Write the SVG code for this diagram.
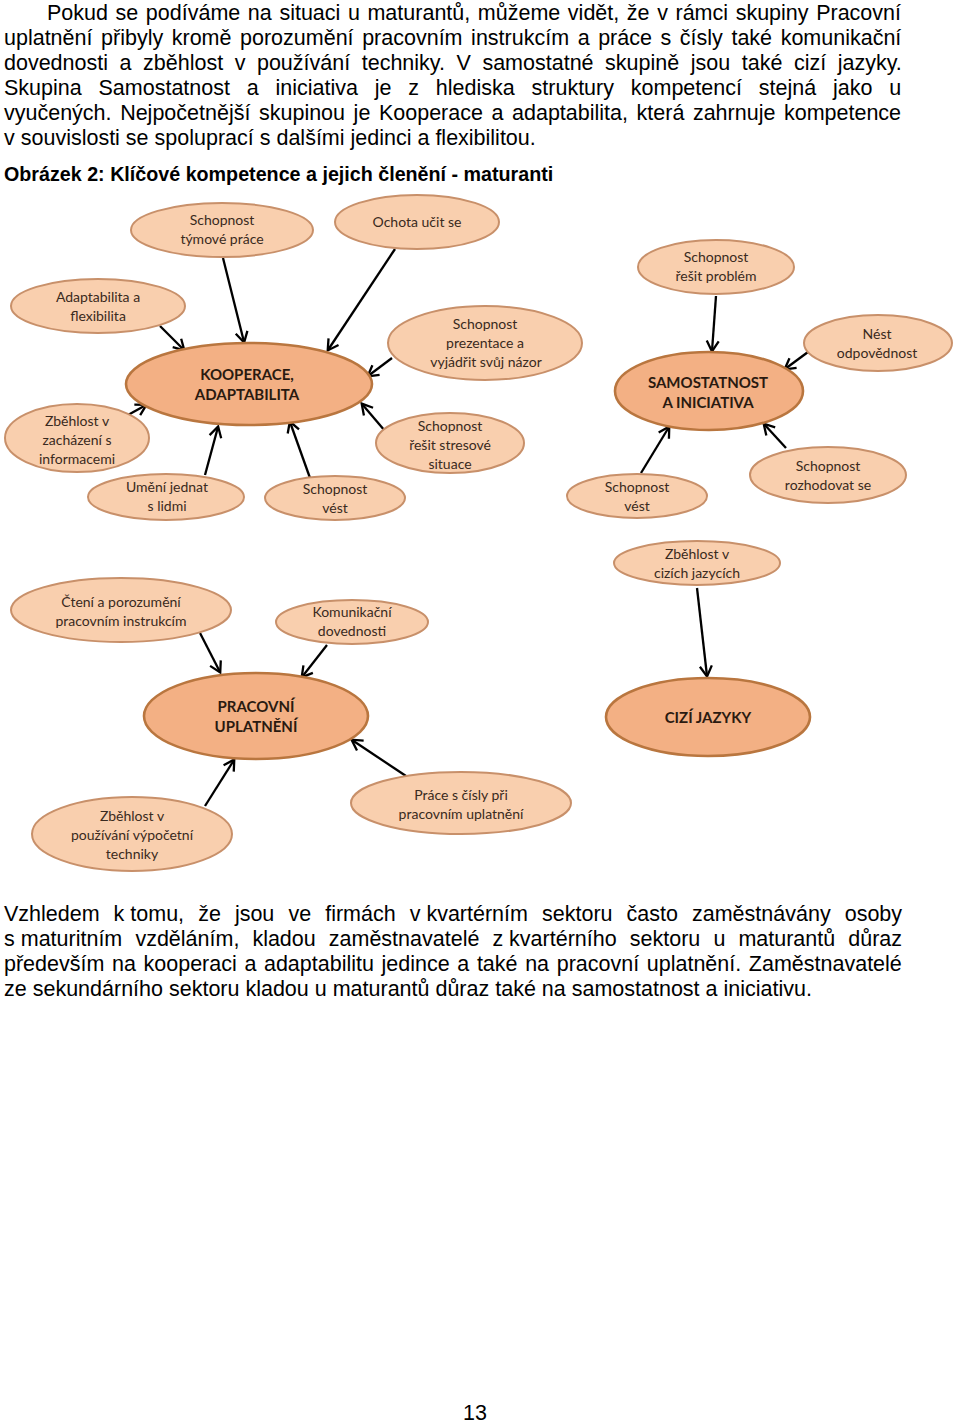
<svg xmlns="http://www.w3.org/2000/svg" width="960" height="1423" viewBox="0 0 960 1423">
<style>
.p{font-family:"Liberation Sans",Arial,sans-serif;font-size:21.5px;fill:#000}
.h{font-family:"Liberation Sans",Arial,sans-serif;font-size:19.7px;font-weight:bold;fill:#000}
.s{fill:#F9CFAE;stroke:#C8906A;stroke-width:2}
.b{fill:#F3B084;stroke:#B9763F;stroke-width:2.6}
.t{font-family:Lato,"Open Sans",sans-serif;font-size:14px;fill:#3a2a20;text-anchor:middle}
.tb{font-family:Lato,"Open Sans",sans-serif;font-size:15px;font-weight:bold;fill:#2a1a10;text-anchor:middle}
.c line{stroke:#000;stroke-width:2.3;marker-end:url(#ah)}
</style>
<defs>
<marker id="ah" markerUnits="userSpaceOnUse" viewBox="0 0 14 14" markerWidth="14" markerHeight="14" refX="12" refY="7" orient="auto" overflow="visible">
<path d="M2,1 L12.5,7 L2,13" fill="none" stroke="#000" stroke-width="2.3"/>
</marker>
</defs>
<rect width="960" height="1423" fill="#fff"/>
<g id="text-top">
<text class="p" x="47" y="20" word-spacing="1.62">Pokud se podíváme na situaci u maturantů, můžeme vidět, že v rámci skupiny Pracovní</text>
<text class="p" x="4" y="45" word-spacing="2.6">uplatnění přibyly kromě porozumění pracovním instrukcím a práce s čísly také komunikační</text>
<text class="p" x="4" y="70" word-spacing="5.57">dovednosti a zběhlost v používání techniky. V samostatné skupině jsou také cizí jazyky.</text>
<text class="p" x="4" y="95" word-spacing="10.83">Skupina Samostatnost a iniciativa je z hlediska struktury kompetencí stejná jako u</text>
<text class="p" x="4" y="120" word-spacing="2.6">vyučených. Nejpočetnější skupinou je Kooperace a adaptabilita, která zahrnuje kompetence</text>
<text class="p" x="4" y="145">v souvislosti se spoluprací s dalšími jedinci a flexibilitou.</text>
<text class="h" x="4" y="181">Obrázek 2: Klíčové kompetence a jejich členění - maturanti</text>
</g>
<g class="c" id="connectors">
<line x1="223" y1="258" x2="244" y2="342"/>
<line x1="395" y1="249" x2="328" y2="350"/>
<line x1="160" y1="326" x2="184" y2="350"/>
<line x1="392" y1="358" x2="368" y2="376"/>
<line x1="128" y1="415" x2="146" y2="405"/>
<line x1="205" y1="475" x2="218" y2="427"/>
<line x1="310" y1="478" x2="290" y2="422"/>
<line x1="385" y1="431" x2="362" y2="404"/>
<line x1="716" y1="296" x2="712" y2="351"/>
<line x1="808" y1="352" x2="785" y2="369"/>
<line x1="641" y1="473" x2="669" y2="427"/>
<line x1="786" y1="448" x2="764" y2="424"/>
<line x1="697" y1="588" x2="707" y2="676"/>
<line x1="200" y1="633" x2="220" y2="672"/>
<line x1="327" y1="645" x2="302" y2="677"/>
<line x1="205" y1="806" x2="234" y2="760"/>
<line x1="406" y1="776" x2="352" y2="740"/>
</g>
<g id="n-tymova"><ellipse class="s" cx="222" cy="230" rx="91" ry="27"/><text class="t" x="222" y="225">Schopnost</text><text class="t" x="222" y="244">týmové práce</text></g>
<g id="n-ochota"><ellipse class="s" cx="417" cy="222" rx="82" ry="27"/><text class="t" x="417" y="227">Ochota učit se</text></g>
<g id="n-adapt"><ellipse class="s" cx="98" cy="306" rx="87" ry="27"/><text class="t" x="98" y="302">Adaptabilita a</text><text class="t" x="98" y="321">flexibilita</text></g>
<g id="n-prezentace"><ellipse class="s" cx="485" cy="343" rx="97" ry="37"/><text class="t" x="485" y="329">Schopnost</text><text class="t" x="485" y="348">prezentace a</text><text class="t" x="486" y="367">vyjádřit svůj názor</text></g>
<g id="n-kooperace"><ellipse class="b" cx="249" cy="384" rx="123" ry="41"/><text class="tb" x="247" y="380">KOOPERACE,</text><text class="tb" x="247" y="400">ADAPTABILITA</text></g>
<g id="n-informace"><ellipse class="s" cx="77" cy="438" rx="72" ry="34"/><text class="t" x="77" y="426">Zběhlost v</text><text class="t" x="77" y="445">zacházení s</text><text class="t" x="77" y="464">informacemi</text></g>
<g id="n-stres"><ellipse class="s" cx="450" cy="443" rx="74" ry="30"/><text class="t" x="450" y="431">Schopnost</text><text class="t" x="450" y="450">řešit stresové</text><text class="t" x="450" y="469">situace</text></g>
<g id="n-umeni"><ellipse class="s" cx="166" cy="497" rx="78" ry="23"/><text class="t" x="167" y="492">Umění jednat</text><text class="t" x="167" y="511">s lidmi</text></g>
<g id="n-vest1"><ellipse class="s" cx="335" cy="498" rx="70" ry="22"/><text class="t" x="335" y="494">Schopnost</text><text class="t" x="335" y="513">vést</text></g>
<g id="n-problem"><ellipse class="s" cx="716" cy="267" rx="78" ry="27"/><text class="t" x="716" y="262">Schopnost</text><text class="t" x="716" y="281">řešit problém</text></g>
<g id="n-nest"><ellipse class="s" cx="878" cy="343" rx="74" ry="28"/><text class="t" x="877" y="339">Nést</text><text class="t" x="877" y="358">odpovědnost</text></g>
<g id="n-samostatnost"><ellipse class="b" cx="709" cy="391" rx="94" ry="39"/><text class="tb" x="708" y="388">SAMOSTATNOST</text><text class="tb" x="708" y="408">A INICIATIVA</text></g>
<g id="n-vest2"><ellipse class="s" cx="637" cy="496" rx="70" ry="22"/><text class="t" x="637" y="492">Schopnost</text><text class="t" x="637" y="511">vést</text></g>
<g id="n-rozhodovat"><ellipse class="s" cx="828" cy="475" rx="78" ry="28"/><text class="t" x="828" y="471">Schopnost</text><text class="t" x="828" y="490">rozhodovat se</text></g>
<g id="n-jazyky-z"><ellipse class="s" cx="697" cy="563" rx="83" ry="22"/><text class="t" x="697" y="559">Zběhlost v</text><text class="t" x="697" y="578">cizích jazycích</text></g>
<g id="n-cizi"><ellipse class="b" cx="708" cy="717" rx="102" ry="39"/><text class="tb" x="708" y="723">CIZÍ JAZYKY</text></g>
<g id="n-cteni"><ellipse class="s" cx="121" cy="610" rx="110" ry="32"/><text class="t" x="121" y="607">Čtení a porozumění</text><text class="t" x="121" y="626">pracovním instrukcím</text></g>
<g id="n-komunikace"><ellipse class="s" cx="352" cy="622" rx="76" ry="22"/><text class="t" x="352" y="617">Komunikační</text><text class="t" x="352" y="636">dovednosti</text></g>
<g id="n-pracovni"><ellipse class="b" cx="256" cy="716" rx="112" ry="43"/><text class="tb" x="256" y="712">PRACOVNÍ</text><text class="tb" x="256" y="732">UPLATNĚNÍ</text></g>
<g id="n-vypocet"><ellipse class="s" cx="132" cy="834" rx="100" ry="37"/><text class="t" x="132" y="821">Zběhlost v</text><text class="t" x="132" y="840">používání výpočetní</text><text class="t" x="132" y="859">techniky</text></g>
<g id="n-cisla"><ellipse class="s" cx="461" cy="803" rx="110" ry="31"/><text class="t" x="461" y="800">Práce s čísly při</text><text class="t" x="461" y="819">pracovním uplatnění</text></g>
<g id="text-bottom">
<text class="p" y="921"><tspan x="4">Vzhledem</tspan><tspan x="113.6">k tomu,</tspan><tspan x="198.2">že</tspan><tspan x="234.9">jsou</tspan><tspan x="288.4">ve</tspan><tspan x="325.2">firmách</tspan><tspan x="409.7">v kvartérním</tspan><tspan x="542">sektoru</tspan><tspan x="626.6">často</tspan><tspan x="692">zaměstnávány</tspan><tspan x="844.7">osoby</tspan></text>
<text class="p" y="946"><tspan x="4">s maturitním</tspan><tspan x="135.4">vzděláním,</tspan><tspan x="252.4">kladou</tspan><tspan x="328.8">zaměstnavatelé</tspan><tspan x="492.4">z kvartérního</tspan><tspan x="629.8">sektoru</tspan><tspan x="713.4">u</tspan><tspan x="738.4">maturantů</tspan><tspan x="848.3">důraz</tspan></text>
<text class="p" x="4" y="971" word-spacing="1.65">především na kooperaci a adaptabilitu jedince a také na pracovní uplatnění. Zaměstnavatelé</text>
<text class="p" x="4" y="996">ze sekundárního sektoru kladou u maturantů důraz také na samostatnost a iniciativu.</text>
</g>
<text class="p" x="475" y="1420" text-anchor="middle">13</text>
</svg>
